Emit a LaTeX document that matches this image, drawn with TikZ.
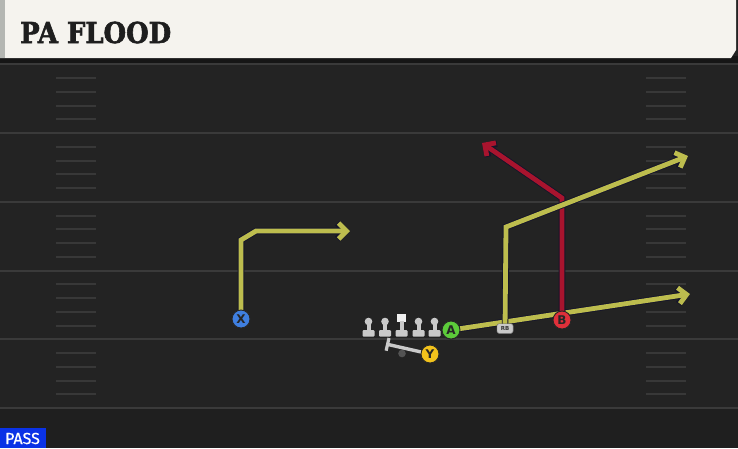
\documentclass[tikz,border=0pt]{standalone}
\usepackage{fontspec}
\usetikzlibrary{arrows.meta}
\newfontfamily\titlefont[FakeStretch=0.9,FakeBold=2]{DejaVu Serif}
\newfontfamily\labfont{DejaVu Sans}
\newfontfamily\passfont[FakeBold=0.6]{Fira Sans}
\definecolor{field}{HTML}{232323}
\definecolor{fieldlow}{HTML}{1F1F1F}
\definecolor{yardc}{HTML}{3A3A3A}
\definecolor{hashc}{HTML}{383838}
\definecolor{cream}{HTML}{F5F3EE}
\definecolor{creamedge}{HTML}{B4B6B2}
\definecolor{band}{HTML}{161616}
\definecolor{titlec}{HTML}{1E1E1E}
\definecolor{routey}{HTML}{BDBD4E}
\definecolor{router}{HTML}{A8142E}
\definecolor{outl}{HTML}{15152A}
\definecolor{xblue}{HTML}{3F7FE0}
\definecolor{agreen}{HTML}{5CCB3A}
\definecolor{bred}{HTML}{E0303A}
\definecolor{yyellow}{HTML}{F2C21C}
\definecolor{olc}{HTML}{C9C9C9}
\definecolor{passblue}{HTML}{0A32E6}
\tikzset{
  yard/.style={draw=yardc, line width=2pt},
  hashm/.style={draw=hashc, line width=2pt},
  player/.style={circle, draw=black!85, line width=0.9pt, minimum size=18pt, inner sep=0pt,
     font=\labfont\bfseries\fontsize{12}{12}\selectfont, text=black!85},
  route/.style={preaction={draw=outl, line width=6.6pt}, draw=#1, line width=4.8pt,
     line join=miter, -{Straight Barb[length=8pt,width=16pt]}},
  rbtag/.style={rounded corners=2pt, fill=olc, draw=black!60, line width=0.4pt, minimum width=16pt,
     minimum height=9.5pt, inner sep=0pt, font=\labfont\bfseries\fontsize{5.5}{5.5}\selectfont, text=black!80},
  olpart/.style={fill=olc},
}
\begin{document}
\begin{tikzpicture}[x=1pt,y=-1pt]
\useasboundingbox (0,0) rectangle (738,448);
\fill[field] (0,0) rectangle (738,448);
\fill[fieldlow] (0,408) rectangle (738,448);
% yard lines
\foreach \y in {64.25,133,201.75,270.5,339.25,408}
  \draw[yard] (0,\y) -- (738,\y);
% hash marks
\foreach \k in {1,2,3,4,6,7,8,9,11,12,13,14,16,17,18,19,21,22,23,24}{
  \draw[hashm] (56,64.25+13.75*\k) -- (96,64.25+13.75*\k);
  \draw[hashm] (646,64.25+13.75*\k) -- (686,64.25+13.75*\k);
}
% header
\fill[band] (0,56) rectangle (738,63);
\fill[cream] (0,0) -- (736,0) -- (736,50) -- (731,58) -- (0,58) -- cycle;
\fill[creamedge] (0,0) rectangle (5,58);
\node[anchor=base west, inner sep=0pt, text=titlec, font=\titlefont\bfseries\fontsize{28.8}{30}\selectfont] (title) at (20,43) {PA FLOOD};
% players
\node[player, fill=xblue] (X) at (241,319) {X};
\node[player, fill=agreen] (A) at (451,330) {A};
\node[player, fill=bred] (B) at (562,320) {B};
\node[player, fill=yyellow] (Y) at (430,354) {Y};
\node[rbtag] (RB) at (505,328.5) {RB};
% route break points
\coordinate (x1) at (241,240);
\coordinate (x2) at (256,231);
\coordinate (xe) at (350,231);
\coordinate (ae) at (690,294);
\coordinate (r1) at (506,227);
\coordinate (re) at (688,156);
\coordinate (b1) at (562,198);
\coordinate (be) at (482,143);
% routes
\draw[route=routey] (A.center) -- (ae);
\draw[route=router] (B.center) -- (b1) -- (be);
\draw[route=routey] (RB.center) -- (r1) -- (re);
\draw[route=routey] (X.center) -- (x1) -- (x2) -- (xe);
% redraw nodes on top of routes
\node[player, fill=xblue] at (X) {X};
\node[player, fill=agreen] at (A) {A};
\node[player, fill=bred] at (B) {B};
\node[rbtag] at (RB) {RB};
% offensive line
\foreach \xx in {368.5,385,418.5,434.5}{
  \fill[olpart] (\xx,321.5) circle (3.8pt);
  \fill[olpart] (\xx-2,321.5) rectangle (\xx+2,331);
  \fill[olpart, rounded corners=1pt] (\xx-6,330) rectangle (\xx+6,336.5);
}
\fill[white!94!black] (397,313.5) rectangle (406,322);
\fill[olpart] (399.5,321) rectangle (403.5,331);
\fill[olpart, rounded corners=1pt] (395.5,330) rectangle (407.5,336.5);
% QB dot and Y block line
\fill[gray!65!black] (402,353.5) circle (3.8pt);
\coordinate (blk) at (386,344);
\draw[draw=olc, line width=3.4pt, -{Bar[width=13pt, line width=3.2pt]}] (Y.center) -- (blk);
\node[player, fill=yyellow] at (Y) {Y};
% PASS label
\fill[passblue] (0,428) rectangle (46,448);
\node[text=white, inner sep=0pt, font=\passfont\fontsize{16}{16}\selectfont] (pass) at (22.5,438.5) {PASS};
\end{tikzpicture}
\end{document}
